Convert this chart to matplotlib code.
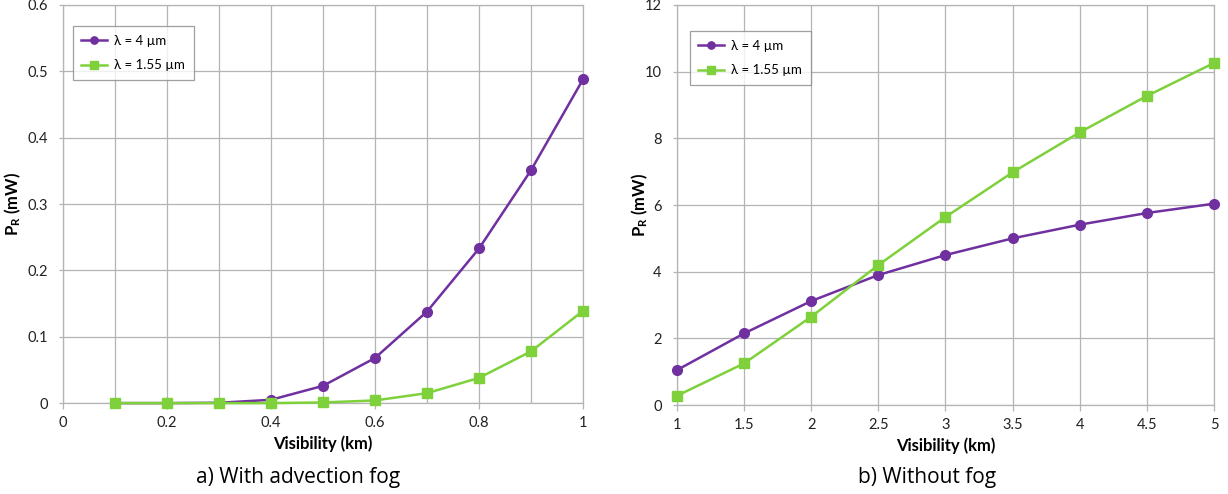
import matplotlib
matplotlib.use("Agg")
import matplotlib.pyplot as plt

plt.rcParams['font.family'] = ['Lato', 'DejaVu Sans']
plt.rcParams['mathtext.fontset'] = 'custom'
plt.rcParams['mathtext.rm'] = 'Lato'
plt.rcParams['mathtext.bf'] = 'Lato:bold'

# Data
vis_a = [0.1, 0.2, 0.3, 0.4, 0.5, 0.6, 0.7, 0.8, 0.9, 1.0]
p4_a = [0.0, 0.0, 0.0005, 0.005, 0.026, 0.068, 0.138, 0.233, 0.351, 0.488]
p155_a = [0.0, 0.0, 0.0, 0.0, 0.001, 0.004, 0.015, 0.038, 0.078, 0.139]

vis_b = [1, 1.5, 2, 2.5, 3, 3.5, 4, 4.5, 5]
p4_b = [1.05, 2.15, 3.12, 3.9, 4.5, 5.0, 5.41, 5.76, 6.04]
p155_b = [0.28, 1.25, 2.65, 4.2, 5.64, 6.98, 8.18, 9.27, 10.26]

xticks_a = [0, 0.2, 0.4, 0.6, 0.8, 1]
xtick_labels_a = ['0', '0.2', '0.4', '0.6', '0.8', '1']
yticks_a = [0, 0.1, 0.2, 0.3, 0.4, 0.5, 0.6]
ytick_labels_a = ['0', '0.1', '0.2', '0.3', '0.4', '0.5', '0.6']
xticks_b = [1, 1.5, 2, 2.5, 3, 3.5, 4, 4.5, 5]
xtick_labels_b = ['1', '1.5', '2', '2.5', '3', '3.5', '4', '4.5', '5']
yticks_b = [0, 2, 4, 6, 8, 10, 12]
ytick_labels_b = ['0', '2', '4', '6', '8', '10', '12']

labels = ['λ = 4 µm', 'λ = 1.55 µm']
captions = ['a) With advection fog', 'b) Without fog']

PURPLE = '#7030a0'
GREEN = '#7fd13b'
GRID = '#b4b4b4'

fig = plt.figure(figsize=(12.28, 4.94), dpi=100)
axA = fig.add_axes([0.0513, 0.184, 0.4235, 0.806])
axB = fig.add_axes([0.5513, 0.180, 0.4373, 0.810])


def style(ax, xlim, ylim, xt, xtl, yt, ytl, xminor, ylab_x):
    ax.set_xlim(*xlim)
    ax.set_ylim(*ylim)
    ax.set_xticks(xt)
    ax.set_xticklabels(xtl)
    ax.set_yticks(yt)
    ax.set_yticklabels(ytl)
    if xminor is not None:
        ax.set_xticks(xminor, minor=True)
    ax.grid(True, which='both', color=GRID, linewidth=0.9)
    ax.set_axisbelow(True)
    for s in ax.spines.values():
        s.set_color(GRID)
        s.set_linewidth(0.9)
    ax.tick_params(which='minor', length=0)
    ax.tick_params(axis='y', which='major', length=3, color=GRID, width=0.9,
                   labelsize=10.5, pad=8)
    ax.tick_params(axis='x', which='major', length=4, color=GRID, width=0.9,
                   labelsize=10.5, pad=5)
    for lab in ax.get_xticklabels() + ax.get_yticklabels():
        lab.set_color('#222222')
    ax.set_xlabel('Visibility (km)', fontsize=12, fontweight='bold', labelpad=4)
    ax.set_ylabel(r'$\mathbf{P_{R}}$ (mW)', fontsize=12, fontweight='bold')
    ax.yaxis.set_label_coords(ylab_x, 0.5)


for ax, x, y1, y2 in [(axA, vis_a, p4_a, p155_a), (axB, vis_b, p4_b, p155_b)]:
    ax.plot(x, y1, color=PURPLE, lw=1.8, marker='o', ms=7, label=labels[0], clip_on=False, zorder=3)
    ax.plot(x, y2, color=GREEN, lw=1.8, marker='s', ms=7, label=labels[1], clip_on=False, zorder=3)

style(axA, (0, 1), (0, 0.6), xticks_a, xtick_labels_a, yticks_a, ytick_labels_a,
      [0.1, 0.3, 0.5, 0.7, 0.9], -0.077)
style(axB, (1, 5), (0, 12), xticks_b, xtick_labels_b, yticks_b, ytick_labels_b, None, -0.05)

for ax, loc in [(axA, (0.019, 0.812)), (axB, (0.024, 0.80))]:
    leg = ax.legend(loc='lower left', bbox_to_anchor=loc, borderaxespad=0, fontsize=9.5,
                    frameon=True, fancybox=False, edgecolor='#888888', borderpad=0.65,
                    handlelength=1.9, labelspacing=0.95, handletextpad=0.6, markerscale=0.75)
    leg.get_frame().set_linewidth(0.9)

fig.text(0.243, 0.022, captions[0], ha='center', va='baseline', fontsize=15,
         family=['Open Sans', 'DejaVu Sans'])
fig.text(0.755, 0.022, captions[1], ha='center', va='baseline', fontsize=15,
         family=['Open Sans', 'DejaVu Sans'])

fig.savefig('out.png', dpi=100)
